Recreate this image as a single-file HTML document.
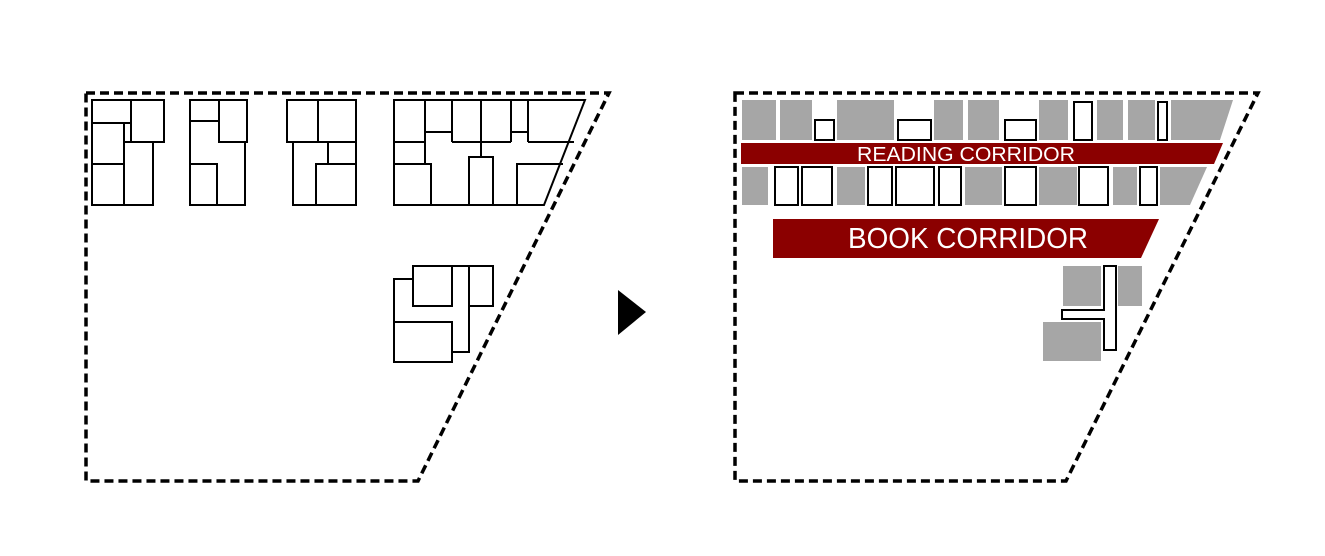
<!DOCTYPE html>
<html><head><meta charset="utf-8"><style>html,body{margin:0;padding:0;background:#fff}svg{display:block}</style></head>
<body>
<svg width="1325" height="556" viewBox="0 0 1325 556" xmlns="http://www.w3.org/2000/svg">
<g fill="none" stroke="#000" stroke-width="3.5" stroke-dasharray="9,5">
<polygon points="86,93 609,93 418,481 86,481"/>
<polygon points="735,93 1258,93 1066,481 735,481"/>
</g>
<g fill="none" stroke="#000" stroke-width="2">
<rect x="92" y="100" width="39" height="23"/><rect x="131" y="100" width="33" height="42"/>
<rect x="92" y="123" width="32" height="41"/><rect x="92" y="164" width="32" height="41"/>
<rect x="124" y="142" width="29" height="63"/>
<rect x="190" y="100" width="29" height="21"/><rect x="219" y="100" width="28" height="42"/>
<polyline points="190,121 190,205 245,205 245,142"/><rect x="190" y="164" width="27" height="41"/>
<rect x="287" y="100" width="31" height="42"/><rect x="318" y="100" width="38" height="42"/>
<polyline points="293,142 293,205 356,205 356,142"/><line x1="328" y1="142" x2="328" y2="164"/>
<rect x="316" y="164" width="40" height="41"/>
<polygon points="394,100 585,100 544,205 394,205"/>
<line x1="394" y1="142" x2="425" y2="142"/>
<line x1="452" y1="142" x2="511" y2="142"/>
<line x1="528" y1="142" x2="574" y2="142"/>
<line x1="425" y1="100" x2="425" y2="164"/>
<line x1="425" y1="132" x2="452" y2="132"/><line x1="511" y1="132" x2="528" y2="132"/>
<line x1="452" y1="100" x2="452" y2="142"/><line x1="481" y1="100" x2="481" y2="157"/>
<line x1="511" y1="100" x2="511" y2="142"/><line x1="528" y1="100" x2="528" y2="142"/>
<rect x="394" y="164" width="37" height="41"/>
<rect x="469" y="157" width="24" height="48"/>
<polyline points="517,205 517,164 563,164"/>
<polyline points="413,279 394,279 394,362 452,362 452,352 469,352 469,266"/>
<rect x="413" y="266" width="39" height="40"/><rect x="469" y="266" width="24" height="40"/>
<line x1="452" y1="266" x2="469" y2="266"/>
<rect x="394" y="322" width="58" height="40"/>
</g>
<polygon points="618,290 646,312 618,335" fill="#000"/>
<g fill="#a6a6a6">
<rect x="742" y="100" width="34" height="40"/><rect x="780" y="100" width="32" height="40"/>
<rect x="837" y="100" width="57" height="40"/><rect x="934" y="100" width="29" height="40"/>
<rect x="968" y="100" width="31" height="40"/><rect x="1039" y="100" width="29" height="40"/>
<rect x="1097" y="100" width="26" height="40"/><rect x="1128" y="100" width="27" height="40"/>
<polygon points="1171,100 1233,100 1220,140 1171,140"/>
<rect x="742" y="167" width="26" height="38"/><rect x="837" y="167" width="28" height="38"/>
<rect x="965" y="167" width="37" height="38"/><rect x="1039" y="167" width="38" height="38"/>
<rect x="1113" y="167" width="24" height="38"/>
<polygon points="1160,167 1207,167 1190,205 1160,205"/>
<rect x="1063" y="266" width="38" height="40"/><rect x="1118" y="266" width="24" height="40"/>
<rect x="1043" y="322" width="58" height="39"/>
</g>
<g fill="#fff" stroke="#000" stroke-width="2">
<rect x="815" y="120" width="19" height="20"/><rect x="898" y="120" width="33" height="20"/>
<rect x="1005" y="120" width="31" height="20"/><rect x="1074" y="102" width="18" height="38"/>
<rect x="1158" y="102" width="9" height="38"/>
<rect x="775" y="167" width="23" height="38"/><rect x="802" y="167" width="30" height="38"/>
<rect x="868" y="167" width="24" height="38"/><rect x="896" y="167" width="38" height="38"/>
<rect x="939" y="167" width="22" height="38"/><rect x="1005" y="167" width="31" height="38"/>
<rect x="1079" y="167" width="29" height="38"/><rect x="1140" y="167" width="17" height="38"/>
<polygon points="1104,266 1116,266 1116,350 1104,350 1104,319 1062,319 1062,310 1104,310"/>
</g>
<polygon points="741,143 1223,143 1214,164 741,164" fill="#8b0000"/>
<text x="966" y="161" fill="#fff" font-family="Liberation Sans, sans-serif" font-size="20" text-anchor="middle" textLength="218" lengthAdjust="spacingAndGlyphs">READING CORRIDOR</text>
<polygon points="773,219 1159,219 1141,258 773,258" fill="#8b0000"/>
<text x="968" y="248" fill="#fff" font-family="Liberation Sans, sans-serif" font-size="29" text-anchor="middle" textLength="240" lengthAdjust="spacingAndGlyphs">BOOK CORRIDOR</text>
</svg>
</body></html>
